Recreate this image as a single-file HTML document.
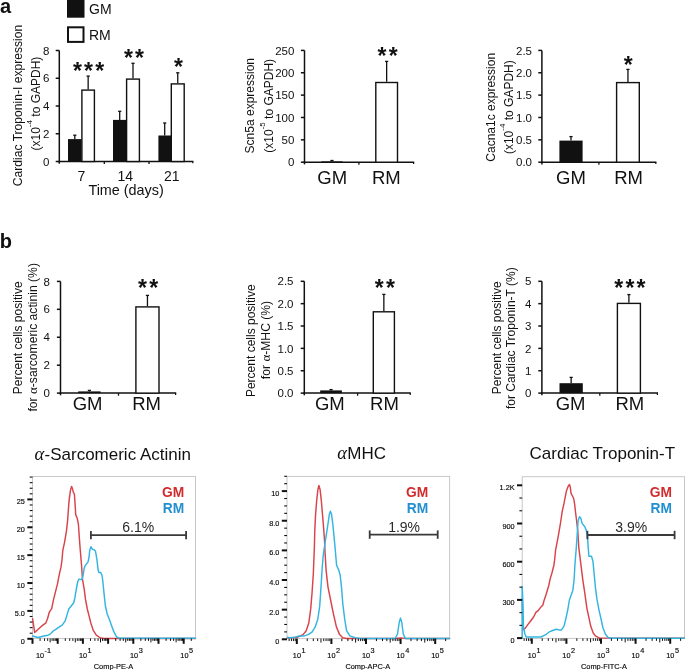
<!DOCTYPE html><html><head><meta charset="utf-8"><style>html,body{margin:0;padding:0;background:#fff;overflow:hidden}svg{display:block;will-change:transform;filter:blur(0.4px)}</style></head><body><svg width="685" height="670" viewBox="0 0 685 670">
<rect width="685" height="670" fill="#fff"/>
<text x="0.00" y="13.20" font-family='"Liberation Sans", sans-serif' font-size="20" text-anchor="start" font-weight="bold" fill="#111" >a</text>
<rect x="67" y="-2" width="17.5" height="19.7" fill="#111"/>
<rect x="68" y="27.3" width="15.5" height="14.6" fill="#fff" stroke="#111" stroke-width="2"/>
<text x="89.00" y="14.20" font-family='"Liberation Sans", sans-serif' font-size="14" text-anchor="start" font-weight="normal" fill="#111" >GM</text>
<text x="89.00" y="40.20" font-family='"Liberation Sans", sans-serif' font-size="14" text-anchor="start" font-weight="normal" fill="#111" >RM</text>
<line x1="59.30" y1="50.50" x2="59.30" y2="162.25" stroke="#111" stroke-width="1.5" />
<line x1="58.55" y1="161.50" x2="193.40" y2="161.50" stroke="#111" stroke-width="1.5" />
<line x1="59.30" y1="161.50" x2="59.30" y2="163.70" stroke="#111" stroke-width="1.5" />
<line x1="192.80" y1="161.50" x2="192.80" y2="163.30" stroke="#111" stroke-width="1.2" />
<line x1="55.70" y1="50.50" x2="59.30" y2="50.50" stroke="#111" stroke-width="1.5" />
<text x="49.50" y="54.64" font-family='"Liberation Sans", sans-serif' font-size="11.5" text-anchor="end" font-weight="normal" fill="#111" >8</text>
<line x1="55.70" y1="78.25" x2="59.30" y2="78.25" stroke="#111" stroke-width="1.5" />
<text x="49.50" y="82.39" font-family='"Liberation Sans", sans-serif' font-size="11.5" text-anchor="end" font-weight="normal" fill="#111" >6</text>
<line x1="55.70" y1="106.00" x2="59.30" y2="106.00" stroke="#111" stroke-width="1.5" />
<text x="49.50" y="110.14" font-family='"Liberation Sans", sans-serif' font-size="11.5" text-anchor="end" font-weight="normal" fill="#111" >4</text>
<line x1="55.70" y1="133.75" x2="59.30" y2="133.75" stroke="#111" stroke-width="1.5" />
<text x="49.50" y="137.89" font-family='"Liberation Sans", sans-serif' font-size="11.5" text-anchor="end" font-weight="normal" fill="#111" >2</text>
<line x1="55.70" y1="161.50" x2="59.30" y2="161.50" stroke="#111" stroke-width="1.5" />
<text x="49.50" y="165.64" font-family='"Liberation Sans", sans-serif' font-size="11.5" text-anchor="end" font-weight="normal" fill="#111" >0</text>
<line x1="104.30" y1="161.50" x2="104.30" y2="164.10" stroke="#111" stroke-width="1.3" />
<line x1="149.00" y1="161.50" x2="149.00" y2="164.10" stroke="#111" stroke-width="1.3" />
<line x1="74.80" y1="139.10" x2="74.80" y2="135.20" stroke="#111" stroke-width="1.3" />
<line x1="73.20" y1="135.20" x2="76.40" y2="135.20" stroke="#111" stroke-width="1.3" />
<rect x="68.00" y="139.10" width="13.60" height="22.40" fill="#111"/>
<line x1="88.15" y1="89.40" x2="88.15" y2="76.10" stroke="#111" stroke-width="1.3" />
<line x1="86.55" y1="76.10" x2="89.75" y2="76.10" stroke="#111" stroke-width="1.3" />
<rect x="81.90" y="90.10" width="12.50" height="71.40" fill="#fff" stroke="#111" stroke-width="1.4"/>
<line x1="119.70" y1="119.90" x2="119.70" y2="111.30" stroke="#111" stroke-width="1.3" />
<line x1="118.10" y1="111.30" x2="121.30" y2="111.30" stroke="#111" stroke-width="1.3" />
<rect x="113.00" y="119.90" width="13.40" height="41.60" fill="#111"/>
<line x1="133.00" y1="78.40" x2="133.00" y2="63.30" stroke="#111" stroke-width="1.3" />
<line x1="131.40" y1="63.30" x2="134.60" y2="63.30" stroke="#111" stroke-width="1.3" />
<rect x="126.60" y="79.10" width="12.80" height="82.40" fill="#fff" stroke="#111" stroke-width="1.4"/>
<line x1="164.70" y1="135.50" x2="164.70" y2="123.00" stroke="#111" stroke-width="1.3" />
<line x1="163.10" y1="123.00" x2="166.30" y2="123.00" stroke="#111" stroke-width="1.3" />
<rect x="158.40" y="135.50" width="12.60" height="26.00" fill="#111"/>
<line x1="177.75" y1="83.20" x2="177.75" y2="72.80" stroke="#111" stroke-width="1.3" />
<line x1="176.15" y1="72.80" x2="179.35" y2="72.80" stroke="#111" stroke-width="1.3" />
<rect x="171.30" y="83.90" width="12.90" height="77.60" fill="#fff" stroke="#111" stroke-width="1.4"/>
<text x="89.72" y="79.02" font-family='"Liberation Sans", sans-serif' font-size="23" text-anchor="middle" font-weight="bold" fill="#111" letter-spacing="2.25" >***</text>
<text x="135.12" y="65.92" font-family='"Liberation Sans", sans-serif' font-size="23" text-anchor="middle" font-weight="bold" fill="#111" letter-spacing="2.25" >**</text>
<text x="179.52" y="74.72" font-family='"Liberation Sans", sans-serif' font-size="23" text-anchor="middle" font-weight="bold" fill="#111" letter-spacing="2.25" >*</text>
<text x="81.50" y="180.60" font-family='"Liberation Sans", sans-serif' font-size="14" text-anchor="middle" font-weight="normal" fill="#111" >7</text>
<text x="125.20" y="180.60" font-family='"Liberation Sans", sans-serif' font-size="14" text-anchor="middle" font-weight="normal" fill="#111" >14</text>
<text x="171.80" y="180.60" font-family='"Liberation Sans", sans-serif' font-size="14" text-anchor="middle" font-weight="normal" fill="#111" >21</text>
<text x="0" y="0" transform="translate(22.00,105.50) rotate(-90)" font-family='"Liberation Sans", sans-serif' font-size="12.1" text-anchor="middle" fill="#111">Cardiac Troponin-I expression</text>
<text x="0" y="0" transform="translate(40.40,103.60) rotate(-90)" font-family='"Liberation Sans", sans-serif' font-size="12" text-anchor="middle" fill="#111">(x10<tspan dy="-8.3" font-size="8">-4</tspan><tspan dy="8.3"> to GAPDH)</tspan></text>
<text x="126.10" y="194.50" font-family='"Liberation Sans", sans-serif' font-size="14.4" text-anchor="middle" font-weight="normal" fill="#111" >Time (days)</text>
<line x1="304.50" y1="50.40" x2="304.50" y2="162.95" stroke="#111" stroke-width="1.5" />
<line x1="303.75" y1="162.20" x2="414.20" y2="162.20" stroke="#111" stroke-width="1.5" />
<line x1="304.50" y1="162.20" x2="304.50" y2="164.40" stroke="#111" stroke-width="1.5" />
<line x1="413.60" y1="162.20" x2="413.60" y2="164.00" stroke="#111" stroke-width="1.2" />
<line x1="300.90" y1="50.40" x2="304.50" y2="50.40" stroke="#111" stroke-width="1.5" />
<text x="294.40" y="54.54" font-family='"Liberation Sans", sans-serif' font-size="11.5" text-anchor="end" font-weight="normal" fill="#111" >250</text>
<line x1="300.90" y1="72.76" x2="304.50" y2="72.76" stroke="#111" stroke-width="1.5" />
<text x="294.40" y="76.90" font-family='"Liberation Sans", sans-serif' font-size="11.5" text-anchor="end" font-weight="normal" fill="#111" >200</text>
<line x1="300.90" y1="95.12" x2="304.50" y2="95.12" stroke="#111" stroke-width="1.5" />
<text x="294.40" y="99.26" font-family='"Liberation Sans", sans-serif' font-size="11.5" text-anchor="end" font-weight="normal" fill="#111" >150</text>
<line x1="300.90" y1="117.48" x2="304.50" y2="117.48" stroke="#111" stroke-width="1.5" />
<text x="294.40" y="121.62" font-family='"Liberation Sans", sans-serif' font-size="11.5" text-anchor="end" font-weight="normal" fill="#111" >100</text>
<line x1="300.90" y1="139.84" x2="304.50" y2="139.84" stroke="#111" stroke-width="1.5" />
<text x="294.40" y="143.98" font-family='"Liberation Sans", sans-serif' font-size="11.5" text-anchor="end" font-weight="normal" fill="#111" >50</text>
<line x1="300.90" y1="162.20" x2="304.50" y2="162.20" stroke="#111" stroke-width="1.5" />
<text x="294.40" y="166.34" font-family='"Liberation Sans", sans-serif' font-size="11.5" text-anchor="end" font-weight="normal" fill="#111" >0</text>
<line x1="358.90" y1="162.20" x2="358.90" y2="164.80" stroke="#111" stroke-width="1.3" />
<line x1="331.95" y1="161.40" x2="331.95" y2="160.50" stroke="#111" stroke-width="1.3" />
<line x1="330.35" y1="160.50" x2="333.55" y2="160.50" stroke="#111" stroke-width="1.3" />
<rect x="321.30" y="161.40" width="21.30" height="0.80" fill="#111"/>
<line x1="386.65" y1="81.80" x2="386.65" y2="61.40" stroke="#111" stroke-width="1.3" />
<line x1="385.05" y1="61.40" x2="388.25" y2="61.40" stroke="#111" stroke-width="1.3" />
<rect x="375.80" y="82.50" width="21.70" height="79.70" fill="#fff" stroke="#111" stroke-width="1.4"/>
<text x="388.72" y="64.02" font-family='"Liberation Sans", sans-serif' font-size="23" text-anchor="middle" font-weight="bold" fill="#111" letter-spacing="2.25" >**</text>
<text x="332.20" y="184.30" font-family='"Liberation Sans", sans-serif' font-size="18.5" text-anchor="middle" font-weight="normal" fill="#111" >GM</text>
<text x="386.30" y="184.30" font-family='"Liberation Sans", sans-serif' font-size="18.5" text-anchor="middle" font-weight="normal" fill="#111" >RM</text>
<text x="0" y="0" transform="translate(254.20,105.70) rotate(-90)" font-family='"Liberation Sans", sans-serif' font-size="12" text-anchor="middle" fill="#111">Scn5a expression</text>
<text x="0" y="0" transform="translate(272.80,105.80) rotate(-90)" font-family='"Liberation Sans", sans-serif' font-size="12" text-anchor="middle" fill="#111">(x10<tspan dy="-8.3" font-size="8">-5</tspan><tspan dy="8.3"> to GAPDH)</tspan></text>
<line x1="541.90" y1="50.40" x2="541.90" y2="162.95" stroke="#111" stroke-width="1.5" />
<line x1="541.15" y1="162.20" x2="656.40" y2="162.20" stroke="#111" stroke-width="1.5" />
<line x1="541.90" y1="162.20" x2="541.90" y2="164.40" stroke="#111" stroke-width="1.5" />
<line x1="655.80" y1="162.20" x2="655.80" y2="164.00" stroke="#111" stroke-width="1.2" />
<line x1="538.30" y1="50.40" x2="541.90" y2="50.40" stroke="#111" stroke-width="1.5" />
<text x="532.00" y="54.54" font-family='"Liberation Sans", sans-serif' font-size="11.5" text-anchor="end" font-weight="normal" fill="#111" >2.5</text>
<line x1="538.30" y1="72.76" x2="541.90" y2="72.76" stroke="#111" stroke-width="1.5" />
<text x="532.00" y="76.90" font-family='"Liberation Sans", sans-serif' font-size="11.5" text-anchor="end" font-weight="normal" fill="#111" >2.0</text>
<line x1="538.30" y1="95.12" x2="541.90" y2="95.12" stroke="#111" stroke-width="1.5" />
<text x="532.00" y="99.26" font-family='"Liberation Sans", sans-serif' font-size="11.5" text-anchor="end" font-weight="normal" fill="#111" >1.5</text>
<line x1="538.30" y1="117.48" x2="541.90" y2="117.48" stroke="#111" stroke-width="1.5" />
<text x="532.00" y="121.62" font-family='"Liberation Sans", sans-serif' font-size="11.5" text-anchor="end" font-weight="normal" fill="#111" >1.0</text>
<line x1="538.30" y1="139.84" x2="541.90" y2="139.84" stroke="#111" stroke-width="1.5" />
<text x="532.00" y="143.98" font-family='"Liberation Sans", sans-serif' font-size="11.5" text-anchor="end" font-weight="normal" fill="#111" >0.5</text>
<line x1="538.30" y1="162.20" x2="541.90" y2="162.20" stroke="#111" stroke-width="1.5" />
<text x="532.00" y="166.34" font-family='"Liberation Sans", sans-serif' font-size="11.5" text-anchor="end" font-weight="normal" fill="#111" >0.0</text>
<line x1="598.90" y1="162.20" x2="598.90" y2="164.80" stroke="#111" stroke-width="1.3" />
<line x1="571.00" y1="140.60" x2="571.00" y2="136.60" stroke="#111" stroke-width="1.3" />
<line x1="569.40" y1="136.60" x2="572.60" y2="136.60" stroke="#111" stroke-width="1.3" />
<rect x="559.40" y="140.60" width="23.20" height="21.60" fill="#111"/>
<line x1="627.95" y1="81.90" x2="627.95" y2="69.40" stroke="#111" stroke-width="1.3" />
<line x1="626.35" y1="69.40" x2="629.55" y2="69.40" stroke="#111" stroke-width="1.3" />
<rect x="616.60" y="82.60" width="22.70" height="79.60" fill="#fff" stroke="#111" stroke-width="1.4"/>
<text x="629.42" y="72.62" font-family='"Liberation Sans", sans-serif' font-size="23" text-anchor="middle" font-weight="bold" fill="#111" letter-spacing="2.25" >*</text>
<text x="571.00" y="184.30" font-family='"Liberation Sans", sans-serif' font-size="18.5" text-anchor="middle" font-weight="normal" fill="#111" >GM</text>
<text x="628.60" y="184.30" font-family='"Liberation Sans", sans-serif' font-size="18.5" text-anchor="middle" font-weight="normal" fill="#111" >RM</text>
<text x="0" y="0" transform="translate(494.80,107.30) rotate(-90)" font-family='"Liberation Sans", sans-serif' font-size="12" text-anchor="middle" fill="#111">Cacna1c expression</text>
<text x="0" y="0" transform="translate(512.90,107.20) rotate(-90)" font-family='"Liberation Sans", sans-serif' font-size="12" text-anchor="middle" fill="#111">(x10<tspan dy="-8.3" font-size="8">-4</tspan><tspan dy="8.3"> to GAPDH)</tspan></text>
<text x="-0.30" y="247.80" font-family='"Liberation Sans", sans-serif' font-size="20" text-anchor="start" font-weight="bold" fill="#111" >b</text>
<line x1="60.50" y1="281.40" x2="60.50" y2="393.85" stroke="#111" stroke-width="1.5" />
<line x1="59.75" y1="393.10" x2="176.20" y2="393.10" stroke="#111" stroke-width="1.5" />
<line x1="60.50" y1="393.10" x2="60.50" y2="395.30" stroke="#111" stroke-width="1.5" />
<line x1="175.60" y1="393.10" x2="175.60" y2="394.90" stroke="#111" stroke-width="1.2" />
<line x1="56.90" y1="281.40" x2="60.50" y2="281.40" stroke="#111" stroke-width="1.5" />
<text x="50.00" y="285.54" font-family='"Liberation Sans", sans-serif' font-size="11.5" text-anchor="end" font-weight="normal" fill="#111" >8</text>
<line x1="56.90" y1="309.32" x2="60.50" y2="309.32" stroke="#111" stroke-width="1.5" />
<text x="50.00" y="313.46" font-family='"Liberation Sans", sans-serif' font-size="11.5" text-anchor="end" font-weight="normal" fill="#111" >6</text>
<line x1="56.90" y1="337.25" x2="60.50" y2="337.25" stroke="#111" stroke-width="1.5" />
<text x="50.00" y="341.39" font-family='"Liberation Sans", sans-serif' font-size="11.5" text-anchor="end" font-weight="normal" fill="#111" >4</text>
<line x1="56.90" y1="365.18" x2="60.50" y2="365.18" stroke="#111" stroke-width="1.5" />
<text x="50.00" y="369.31" font-family='"Liberation Sans", sans-serif' font-size="11.5" text-anchor="end" font-weight="normal" fill="#111" >2</text>
<line x1="56.90" y1="393.10" x2="60.50" y2="393.10" stroke="#111" stroke-width="1.5" />
<text x="50.00" y="397.24" font-family='"Liberation Sans", sans-serif' font-size="11.5" text-anchor="end" font-weight="normal" fill="#111" >0</text>
<line x1="118.50" y1="393.10" x2="118.50" y2="395.70" stroke="#111" stroke-width="1.3" />
<line x1="89.40" y1="391.40" x2="89.40" y2="390.40" stroke="#111" stroke-width="1.3" />
<line x1="87.80" y1="390.40" x2="91.00" y2="390.40" stroke="#111" stroke-width="1.3" />
<rect x="78.20" y="391.40" width="22.40" height="1.70" fill="#111"/>
<line x1="147.45" y1="306.20" x2="147.45" y2="295.40" stroke="#111" stroke-width="1.3" />
<line x1="145.85" y1="295.40" x2="149.05" y2="295.40" stroke="#111" stroke-width="1.3" />
<rect x="135.90" y="306.90" width="23.10" height="86.20" fill="#fff" stroke="#111" stroke-width="1.4"/>
<text x="149.22" y="296.22" font-family='"Liberation Sans", sans-serif' font-size="23" text-anchor="middle" font-weight="bold" fill="#111" letter-spacing="2.25" >**</text>
<text x="87.60" y="409.60" font-family='"Liberation Sans", sans-serif' font-size="18.5" text-anchor="middle" font-weight="normal" fill="#111" >GM</text>
<text x="146.60" y="409.60" font-family='"Liberation Sans", sans-serif' font-size="18.5" text-anchor="middle" font-weight="normal" fill="#111" >RM</text>
<text x="0" y="0" transform="translate(21.60,337.80) rotate(-90)" font-family='"Liberation Sans", sans-serif' font-size="12" text-anchor="middle" fill="#111">Percent cells positive</text>
<text x="0" y="0" transform="translate(37.30,337.30) rotate(-90)" font-family='"Liberation Sans", sans-serif' font-size="12.15" text-anchor="middle" fill="#111">for <tspan font-family="&quot;Liberation Serif&quot;, serif" font-size="13">α</tspan>-sarcomeric actinin (%)</text>
<line x1="304.30" y1="281.30" x2="304.30" y2="393.85" stroke="#111" stroke-width="1.5" />
<line x1="303.55" y1="393.10" x2="410.80" y2="393.10" stroke="#111" stroke-width="1.5" />
<line x1="304.30" y1="393.10" x2="304.30" y2="395.30" stroke="#111" stroke-width="1.5" />
<line x1="410.20" y1="393.10" x2="410.20" y2="394.90" stroke="#111" stroke-width="1.2" />
<line x1="300.70" y1="281.30" x2="304.30" y2="281.30" stroke="#111" stroke-width="1.5" />
<text x="293.50" y="285.44" font-family='"Liberation Sans", sans-serif' font-size="11.5" text-anchor="end" font-weight="normal" fill="#111" >2.5</text>
<line x1="300.70" y1="303.66" x2="304.30" y2="303.66" stroke="#111" stroke-width="1.5" />
<text x="293.50" y="307.80" font-family='"Liberation Sans", sans-serif' font-size="11.5" text-anchor="end" font-weight="normal" fill="#111" >2.0</text>
<line x1="300.70" y1="326.02" x2="304.30" y2="326.02" stroke="#111" stroke-width="1.5" />
<text x="293.50" y="330.16" font-family='"Liberation Sans", sans-serif' font-size="11.5" text-anchor="end" font-weight="normal" fill="#111" >1.5</text>
<line x1="300.70" y1="348.38" x2="304.30" y2="348.38" stroke="#111" stroke-width="1.5" />
<text x="293.50" y="352.52" font-family='"Liberation Sans", sans-serif' font-size="11.5" text-anchor="end" font-weight="normal" fill="#111" >1.0</text>
<line x1="300.70" y1="370.74" x2="304.30" y2="370.74" stroke="#111" stroke-width="1.5" />
<text x="293.50" y="374.88" font-family='"Liberation Sans", sans-serif' font-size="11.5" text-anchor="end" font-weight="normal" fill="#111" >0.5</text>
<line x1="300.70" y1="393.10" x2="304.30" y2="393.10" stroke="#111" stroke-width="1.5" />
<text x="293.50" y="397.24" font-family='"Liberation Sans", sans-serif' font-size="11.5" text-anchor="end" font-weight="normal" fill="#111" >0.0</text>
<line x1="357.60" y1="393.10" x2="357.60" y2="395.70" stroke="#111" stroke-width="1.3" />
<line x1="331.05" y1="390.40" x2="331.05" y2="389.60" stroke="#111" stroke-width="1.3" />
<line x1="329.45" y1="389.60" x2="332.65" y2="389.60" stroke="#111" stroke-width="1.3" />
<rect x="320.20" y="390.40" width="21.70" height="2.70" fill="#111"/>
<line x1="383.85" y1="311.10" x2="383.85" y2="294.40" stroke="#111" stroke-width="1.3" />
<line x1="382.25" y1="294.40" x2="385.45" y2="294.40" stroke="#111" stroke-width="1.3" />
<rect x="373.30" y="311.80" width="21.10" height="81.30" fill="#fff" stroke="#111" stroke-width="1.4"/>
<text x="385.92" y="295.52" font-family='"Liberation Sans", sans-serif' font-size="23" text-anchor="middle" font-weight="bold" fill="#111" letter-spacing="2.25" >**</text>
<text x="329.90" y="409.60" font-family='"Liberation Sans", sans-serif' font-size="18.5" text-anchor="middle" font-weight="normal" fill="#111" >GM</text>
<text x="384.50" y="409.60" font-family='"Liberation Sans", sans-serif' font-size="18.5" text-anchor="middle" font-weight="normal" fill="#111" >RM</text>
<text x="0" y="0" transform="translate(255.10,340.70) rotate(-90)" font-family='"Liberation Sans", sans-serif' font-size="12" text-anchor="middle" fill="#111">Percent cells positive</text>
<text x="0" y="0" transform="translate(269.90,340.00) rotate(-90)" font-family='"Liberation Sans", sans-serif' font-size="12.15" text-anchor="middle" fill="#111">for <tspan font-family="&quot;Liberation Serif&quot;, serif" font-size="13">α</tspan>-MHC (%)</text>
<line x1="541.90" y1="281.30" x2="541.90" y2="393.85" stroke="#111" stroke-width="1.5" />
<line x1="541.15" y1="393.10" x2="658.00" y2="393.10" stroke="#111" stroke-width="1.5" />
<line x1="541.90" y1="393.10" x2="541.90" y2="395.30" stroke="#111" stroke-width="1.5" />
<line x1="657.40" y1="393.10" x2="657.40" y2="394.90" stroke="#111" stroke-width="1.2" />
<line x1="538.30" y1="281.30" x2="541.90" y2="281.30" stroke="#111" stroke-width="1.5" />
<text x="531.40" y="285.44" font-family='"Liberation Sans", sans-serif' font-size="11.5" text-anchor="end" font-weight="normal" fill="#111" >5</text>
<line x1="538.30" y1="303.66" x2="541.90" y2="303.66" stroke="#111" stroke-width="1.5" />
<text x="531.40" y="307.80" font-family='"Liberation Sans", sans-serif' font-size="11.5" text-anchor="end" font-weight="normal" fill="#111" >4</text>
<line x1="538.30" y1="326.02" x2="541.90" y2="326.02" stroke="#111" stroke-width="1.5" />
<text x="531.40" y="330.16" font-family='"Liberation Sans", sans-serif' font-size="11.5" text-anchor="end" font-weight="normal" fill="#111" >3</text>
<line x1="538.30" y1="348.38" x2="541.90" y2="348.38" stroke="#111" stroke-width="1.5" />
<text x="531.40" y="352.52" font-family='"Liberation Sans", sans-serif' font-size="11.5" text-anchor="end" font-weight="normal" fill="#111" >2</text>
<line x1="538.30" y1="370.74" x2="541.90" y2="370.74" stroke="#111" stroke-width="1.5" />
<text x="531.40" y="374.88" font-family='"Liberation Sans", sans-serif' font-size="11.5" text-anchor="end" font-weight="normal" fill="#111" >1</text>
<line x1="538.30" y1="393.10" x2="541.90" y2="393.10" stroke="#111" stroke-width="1.5" />
<text x="531.40" y="397.24" font-family='"Liberation Sans", sans-serif' font-size="11.5" text-anchor="end" font-weight="normal" fill="#111" >0</text>
<line x1="599.80" y1="393.10" x2="599.80" y2="395.70" stroke="#111" stroke-width="1.3" />
<line x1="571.15" y1="383.20" x2="571.15" y2="377.40" stroke="#111" stroke-width="1.3" />
<line x1="569.55" y1="377.40" x2="572.75" y2="377.40" stroke="#111" stroke-width="1.3" />
<rect x="559.50" y="383.20" width="23.30" height="9.90" fill="#111"/>
<line x1="628.90" y1="302.70" x2="628.90" y2="294.60" stroke="#111" stroke-width="1.3" />
<line x1="627.30" y1="294.60" x2="630.50" y2="294.60" stroke="#111" stroke-width="1.3" />
<rect x="617.40" y="303.40" width="23.00" height="89.70" fill="#fff" stroke="#111" stroke-width="1.4"/>
<text x="631.02" y="296.32" font-family='"Liberation Sans", sans-serif' font-size="23" text-anchor="middle" font-weight="bold" fill="#111" letter-spacing="2.25" >***</text>
<text x="570.60" y="409.60" font-family='"Liberation Sans", sans-serif' font-size="18.5" text-anchor="middle" font-weight="normal" fill="#111" >GM</text>
<text x="629.80" y="409.60" font-family='"Liberation Sans", sans-serif' font-size="18.5" text-anchor="middle" font-weight="normal" fill="#111" >RM</text>
<text x="0" y="0" transform="translate(500.70,337.80) rotate(-90)" font-family='"Liberation Sans", sans-serif' font-size="12" text-anchor="middle" fill="#111">Percent cells positive</text>
<text x="0" y="0" transform="translate(514.90,338.20) rotate(-90)" font-family='"Liberation Sans", sans-serif' font-size="12" text-anchor="middle" fill="#111">for Cardiac Troponin-T (%)</text>
<text x="34.50" y="459.60" font-family='"Liberation Sans", sans-serif' font-size="17" text-anchor="start" font-weight="normal" fill="#111" ><tspan font-family="&quot;Liberation Serif&quot;, serif" font-style="italic" font-size="18.5">α</tspan><tspan dx="0.3">-Sarcomeric</tspan> Actinin</text>
<text x="337.20" y="459.30" font-family='"Liberation Sans", sans-serif' font-size="17" text-anchor="start" font-weight="normal" fill="#111" ><tspan font-family="&quot;Liberation Serif&quot;, serif" font-style="italic" font-size="18.5">α</tspan><tspan dx="0.3">MHC</tspan></text>
<text x="529.60" y="459.30" font-family='"Liberation Sans", sans-serif' font-size="17" text-anchor="start" font-weight="normal" fill="#111" >Cardiac Troponin-T</text>
<rect x="32.50" y="476.50" width="163.00" height="161.90" fill="none" stroke="#c8c8c8" stroke-width="1"/>
<polyline points="32.6,618.7 34.7,632.5 37.9,629.5 41.5,626.2 45.7,623.2 47.5,618.7 49.3,612.2 51.7,608.6 53.3,600.6 55.1,593.4 57.5,583.9 59.3,574.3 61.0,567.2 62.0,560.0 62.8,550.4 64.6,542.1 66.4,531.3 67.6,520.6 68.8,503.9 69.4,497.9 70.6,489.6 71.6,486.4 72.4,488.4 73.2,491.9 74.4,494.3 75.1,503.9 75.7,514.6 77.2,518.2 78.4,524.2 79.3,537.3 80.1,548.1 81.1,560.0 81.6,566.0 82.5,579.1 84.3,589.9 85.5,599.4 87.3,609.0 89.1,616.1 90.9,623.3 93.3,630.4 96.3,635.2 100.4,638.0 104.0,638.4 195.5,638.4" fill="none" stroke="#d9434a" stroke-width="1.45" stroke-linejoin="round" stroke-linecap="round"/>
<polyline points="32.6,636.0 37.9,637.5 43.9,636.0 47.9,635.2 49.9,634.3 51.5,632.8 53.5,630.7 55.1,629.9 59.3,626.9 62.2,625.1 65.2,620.9 67.0,614.9 68.8,609.0 71.2,606.0 73.6,603.0 74.8,598.2 76.0,591.0 77.8,581.5 79.0,579.1 81.9,579.7 83.1,575.5 84.2,568.2 85.2,565.6 88.1,561.9 89.1,556.7 89.7,550.4 91.0,546.8 92.5,549.4 94.1,549.7 95.4,551.0 96.2,555.2 97.2,561.9 98.0,569.3 98.8,572.4 100.6,572.4 101.9,575.0 102.7,580.0 103.6,589.0 104.5,597.9 105.4,606.0 107.2,614.0 109.4,619.4 111.6,625.7 113.9,631.9 116.6,636.8 118.8,638.0 121.0,638.3 195.5,638.3" fill="none" stroke="#33b5e2" stroke-width="1.45" stroke-linejoin="round" stroke-linecap="round"/>
<line x1="29.70" y1="633.22" x2="32.50" y2="633.22" stroke="#111" stroke-width="1.1" />
<line x1="29.70" y1="627.65" x2="32.50" y2="627.65" stroke="#111" stroke-width="1.1" />
<line x1="29.70" y1="622.07" x2="32.50" y2="622.07" stroke="#111" stroke-width="1.1" />
<line x1="29.70" y1="616.50" x2="32.50" y2="616.50" stroke="#111" stroke-width="1.1" />
<line x1="29.70" y1="605.34" x2="32.50" y2="605.34" stroke="#111" stroke-width="1.1" />
<line x1="29.70" y1="599.77" x2="32.50" y2="599.77" stroke="#111" stroke-width="1.1" />
<line x1="29.70" y1="594.19" x2="32.50" y2="594.19" stroke="#111" stroke-width="1.1" />
<line x1="29.70" y1="588.62" x2="32.50" y2="588.62" stroke="#111" stroke-width="1.1" />
<line x1="29.70" y1="577.46" x2="32.50" y2="577.46" stroke="#111" stroke-width="1.1" />
<line x1="29.70" y1="571.89" x2="32.50" y2="571.89" stroke="#111" stroke-width="1.1" />
<line x1="29.70" y1="566.31" x2="32.50" y2="566.31" stroke="#111" stroke-width="1.1" />
<line x1="29.70" y1="560.74" x2="32.50" y2="560.74" stroke="#111" stroke-width="1.1" />
<line x1="29.70" y1="549.58" x2="32.50" y2="549.58" stroke="#111" stroke-width="1.1" />
<line x1="29.70" y1="544.01" x2="32.50" y2="544.01" stroke="#111" stroke-width="1.1" />
<line x1="29.70" y1="538.43" x2="32.50" y2="538.43" stroke="#111" stroke-width="1.1" />
<line x1="29.70" y1="532.86" x2="32.50" y2="532.86" stroke="#111" stroke-width="1.1" />
<line x1="29.70" y1="521.70" x2="32.50" y2="521.70" stroke="#111" stroke-width="1.1" />
<line x1="29.70" y1="516.13" x2="32.50" y2="516.13" stroke="#111" stroke-width="1.1" />
<line x1="29.70" y1="510.55" x2="32.50" y2="510.55" stroke="#111" stroke-width="1.1" />
<line x1="29.70" y1="504.98" x2="32.50" y2="504.98" stroke="#111" stroke-width="1.1" />
<line x1="29.70" y1="493.82" x2="32.50" y2="493.82" stroke="#111" stroke-width="1.1" />
<line x1="29.70" y1="488.25" x2="32.50" y2="488.25" stroke="#111" stroke-width="1.1" />
<line x1="29.70" y1="482.67" x2="32.50" y2="482.67" stroke="#111" stroke-width="1.1" />
<line x1="29.70" y1="477.10" x2="32.50" y2="477.10" stroke="#111" stroke-width="1.1" />
<line x1="27.30" y1="638.80" x2="32.50" y2="638.80" stroke="#111" stroke-width="2.0" />
<line x1="27.30" y1="610.92" x2="32.50" y2="610.92" stroke="#111" stroke-width="2.0" />
<line x1="27.30" y1="583.04" x2="32.50" y2="583.04" stroke="#111" stroke-width="2.0" />
<line x1="27.30" y1="555.16" x2="32.50" y2="555.16" stroke="#111" stroke-width="2.0" />
<line x1="27.30" y1="527.28" x2="32.50" y2="527.28" stroke="#111" stroke-width="2.0" />
<line x1="27.30" y1="499.40" x2="32.50" y2="499.40" stroke="#111" stroke-width="2.0" />
<text x="24.90" y="504.40" font-family='"Liberation Sans", sans-serif' font-size="7.3" text-anchor="end" font-weight="normal" fill="#0a0a0a" stroke="#0a0a0a" stroke-width="0.15">25</text>
<text x="24.90" y="532.28" font-family='"Liberation Sans", sans-serif' font-size="7.3" text-anchor="end" font-weight="normal" fill="#0a0a0a" stroke="#0a0a0a" stroke-width="0.15">20</text>
<text x="24.90" y="560.16" font-family='"Liberation Sans", sans-serif' font-size="7.3" text-anchor="end" font-weight="normal" fill="#0a0a0a" stroke="#0a0a0a" stroke-width="0.15">15</text>
<text x="24.90" y="588.04" font-family='"Liberation Sans", sans-serif' font-size="7.3" text-anchor="end" font-weight="normal" fill="#0a0a0a" stroke="#0a0a0a" stroke-width="0.15">10</text>
<text x="24.90" y="615.92" font-family='"Liberation Sans", sans-serif' font-size="7.3" text-anchor="end" font-weight="normal" fill="#0a0a0a" stroke="#0a0a0a" stroke-width="0.15">5.0</text>
<text x="24.90" y="643.80" font-family='"Liberation Sans", sans-serif' font-size="7.3" text-anchor="end" font-weight="normal" fill="#0a0a0a" stroke="#0a0a0a" stroke-width="0.15">0</text>
<line x1="32.50" y1="638.40" x2="32.50" y2="643.80" stroke="#111" stroke-width="2.0" />
<line x1="40.09" y1="638.40" x2="40.09" y2="640.90" stroke="#111" stroke-width="1.0" />
<line x1="44.52" y1="638.40" x2="44.52" y2="640.90" stroke="#111" stroke-width="1.0" />
<line x1="47.67" y1="638.40" x2="47.67" y2="640.90" stroke="#111" stroke-width="1.0" />
<line x1="50.11" y1="638.40" x2="50.11" y2="642.40" stroke="#111" stroke-width="1.0" />
<line x1="52.11" y1="638.40" x2="52.11" y2="640.90" stroke="#111" stroke-width="1.0" />
<line x1="53.80" y1="638.40" x2="53.80" y2="640.90" stroke="#111" stroke-width="1.0" />
<line x1="55.26" y1="638.40" x2="55.26" y2="640.90" stroke="#111" stroke-width="1.0" />
<line x1="56.55" y1="638.40" x2="56.55" y2="640.90" stroke="#111" stroke-width="1.0" />
<line x1="57.70" y1="638.40" x2="57.70" y2="643.80" stroke="#111" stroke-width="2.0" />
<line x1="65.29" y1="638.40" x2="65.29" y2="640.90" stroke="#111" stroke-width="1.0" />
<line x1="69.72" y1="638.40" x2="69.72" y2="640.90" stroke="#111" stroke-width="1.0" />
<line x1="72.87" y1="638.40" x2="72.87" y2="640.90" stroke="#111" stroke-width="1.0" />
<line x1="75.31" y1="638.40" x2="75.31" y2="642.40" stroke="#111" stroke-width="1.0" />
<line x1="77.31" y1="638.40" x2="77.31" y2="640.90" stroke="#111" stroke-width="1.0" />
<line x1="79.00" y1="638.40" x2="79.00" y2="640.90" stroke="#111" stroke-width="1.0" />
<line x1="80.46" y1="638.40" x2="80.46" y2="640.90" stroke="#111" stroke-width="1.0" />
<line x1="81.75" y1="638.40" x2="81.75" y2="640.90" stroke="#111" stroke-width="1.0" />
<line x1="82.90" y1="638.40" x2="82.90" y2="643.80" stroke="#111" stroke-width="2.0" />
<line x1="90.49" y1="638.40" x2="90.49" y2="640.90" stroke="#111" stroke-width="1.0" />
<line x1="94.92" y1="638.40" x2="94.92" y2="640.90" stroke="#111" stroke-width="1.0" />
<line x1="98.07" y1="638.40" x2="98.07" y2="640.90" stroke="#111" stroke-width="1.0" />
<line x1="100.51" y1="638.40" x2="100.51" y2="642.40" stroke="#111" stroke-width="1.0" />
<line x1="102.51" y1="638.40" x2="102.51" y2="640.90" stroke="#111" stroke-width="1.0" />
<line x1="104.20" y1="638.40" x2="104.20" y2="640.90" stroke="#111" stroke-width="1.0" />
<line x1="105.66" y1="638.40" x2="105.66" y2="640.90" stroke="#111" stroke-width="1.0" />
<line x1="106.95" y1="638.40" x2="106.95" y2="640.90" stroke="#111" stroke-width="1.0" />
<line x1="108.10" y1="638.40" x2="108.10" y2="643.80" stroke="#111" stroke-width="2.0" />
<line x1="115.69" y1="638.40" x2="115.69" y2="640.90" stroke="#111" stroke-width="1.0" />
<line x1="120.12" y1="638.40" x2="120.12" y2="640.90" stroke="#111" stroke-width="1.0" />
<line x1="123.27" y1="638.40" x2="123.27" y2="640.90" stroke="#111" stroke-width="1.0" />
<line x1="125.71" y1="638.40" x2="125.71" y2="642.40" stroke="#111" stroke-width="1.0" />
<line x1="127.71" y1="638.40" x2="127.71" y2="640.90" stroke="#111" stroke-width="1.0" />
<line x1="129.40" y1="638.40" x2="129.40" y2="640.90" stroke="#111" stroke-width="1.0" />
<line x1="130.86" y1="638.40" x2="130.86" y2="640.90" stroke="#111" stroke-width="1.0" />
<line x1="132.15" y1="638.40" x2="132.15" y2="640.90" stroke="#111" stroke-width="1.0" />
<line x1="133.30" y1="638.40" x2="133.30" y2="643.80" stroke="#111" stroke-width="2.0" />
<line x1="140.89" y1="638.40" x2="140.89" y2="640.90" stroke="#111" stroke-width="1.0" />
<line x1="145.32" y1="638.40" x2="145.32" y2="640.90" stroke="#111" stroke-width="1.0" />
<line x1="148.47" y1="638.40" x2="148.47" y2="640.90" stroke="#111" stroke-width="1.0" />
<line x1="150.91" y1="638.40" x2="150.91" y2="642.40" stroke="#111" stroke-width="1.0" />
<line x1="152.91" y1="638.40" x2="152.91" y2="640.90" stroke="#111" stroke-width="1.0" />
<line x1="154.60" y1="638.40" x2="154.60" y2="640.90" stroke="#111" stroke-width="1.0" />
<line x1="156.06" y1="638.40" x2="156.06" y2="640.90" stroke="#111" stroke-width="1.0" />
<line x1="157.35" y1="638.40" x2="157.35" y2="640.90" stroke="#111" stroke-width="1.0" />
<line x1="158.50" y1="638.40" x2="158.50" y2="643.80" stroke="#111" stroke-width="2.0" />
<line x1="166.09" y1="638.40" x2="166.09" y2="640.90" stroke="#111" stroke-width="1.0" />
<line x1="170.52" y1="638.40" x2="170.52" y2="640.90" stroke="#111" stroke-width="1.0" />
<line x1="173.67" y1="638.40" x2="173.67" y2="640.90" stroke="#111" stroke-width="1.0" />
<line x1="176.11" y1="638.40" x2="176.11" y2="642.40" stroke="#111" stroke-width="1.0" />
<line x1="178.11" y1="638.40" x2="178.11" y2="640.90" stroke="#111" stroke-width="1.0" />
<line x1="179.80" y1="638.40" x2="179.80" y2="640.90" stroke="#111" stroke-width="1.0" />
<line x1="181.26" y1="638.40" x2="181.26" y2="640.90" stroke="#111" stroke-width="1.0" />
<line x1="182.55" y1="638.40" x2="182.55" y2="640.90" stroke="#111" stroke-width="1.0" />
<line x1="183.70" y1="638.40" x2="183.70" y2="643.80" stroke="#111" stroke-width="2.0" />
<line x1="191.29" y1="638.40" x2="191.29" y2="640.90" stroke="#111" stroke-width="1.0" />
<text x="40.00" y="658.40" font-family='"Liberation Sans", sans-serif' font-size="7.3" text-anchor="middle" font-weight="normal" fill="#0a0a0a" stroke="#0a0a0a" stroke-width="0.15">10</text>
<text x="44.60" y="653.00" font-family='"Liberation Sans", sans-serif' font-size="7.3" text-anchor="start" font-weight="normal" fill="#0a0a0a" stroke="#0a0a0a" stroke-width="0.15">-1</text>
<text x="83.00" y="658.40" font-family='"Liberation Sans", sans-serif' font-size="7.3" text-anchor="middle" font-weight="normal" fill="#0a0a0a" stroke="#0a0a0a" stroke-width="0.15">10</text>
<text x="87.60" y="653.00" font-family='"Liberation Sans", sans-serif' font-size="7.3" text-anchor="start" font-weight="normal" fill="#0a0a0a" stroke="#0a0a0a" stroke-width="0.15">1</text>
<text x="134.10" y="658.40" font-family='"Liberation Sans", sans-serif' font-size="7.3" text-anchor="middle" font-weight="normal" fill="#0a0a0a" stroke="#0a0a0a" stroke-width="0.15">10</text>
<text x="138.70" y="653.00" font-family='"Liberation Sans", sans-serif' font-size="7.3" text-anchor="start" font-weight="normal" fill="#0a0a0a" stroke="#0a0a0a" stroke-width="0.15">3</text>
<text x="184.40" y="658.40" font-family='"Liberation Sans", sans-serif' font-size="7.3" text-anchor="middle" font-weight="normal" fill="#0a0a0a" stroke="#0a0a0a" stroke-width="0.15">10</text>
<text x="189.00" y="653.00" font-family='"Liberation Sans", sans-serif' font-size="7.3" text-anchor="start" font-weight="normal" fill="#0a0a0a" stroke="#0a0a0a" stroke-width="0.15">5</text>
<text x="113.50" y="668.60" font-family='"Liberation Sans", sans-serif' font-size="7.4" text-anchor="middle" font-weight="normal" fill="#0a0a0a" stroke="#0a0a0a" stroke-width="0.15">Comp-PE-A</text>
<text x="184.20" y="496.60" font-family='"Liberation Sans", sans-serif' font-size="13.8" text-anchor="end" font-weight="bold" fill="#d02b2d" >GM</text>
<text x="184.20" y="512.60" font-family='"Liberation Sans", sans-serif' font-size="13.8" text-anchor="end" font-weight="bold" fill="#2290d0" >RM</text>
<line x1="90.90" y1="535.10" x2="186.10" y2="535.10" stroke="#3a3a3a" stroke-width="1.8" />
<line x1="90.90" y1="530.90" x2="90.90" y2="539.30" stroke="#3a3a3a" stroke-width="1.8" />
<line x1="186.10" y1="530.90" x2="186.10" y2="539.30" stroke="#3a3a3a" stroke-width="1.8" />
<text x="138.20" y="531.60" font-family='"Liberation Sans", sans-serif' font-size="14" text-anchor="middle" font-weight="normal" fill="#2a2a2a" >6.1%</text>
<rect x="287.00" y="476.40" width="162.60" height="162.20" fill="none" stroke="#c8c8c8" stroke-width="1"/>
<polyline points="287.5,637.8 291.4,637.8 297.8,637.2 303.0,634.6 306.2,630.8 308.8,623.1 310.7,608.9 312.0,593.5 313.3,574.3 314.0,557.0 314.4,546.9 314.8,530.1 315.5,515.8 316.7,500.3 317.9,489.6 318.9,485.4 320.1,489.6 321.3,500.3 322.4,513.4 323.6,527.8 324.5,539.7 325.0,551.6 325.5,560.0 326.1,570.4 328.0,587.1 330.6,600.0 333.2,612.8 336.4,626.9 339.6,634.6 342.8,637.8 346.6,638.5 395.0,638.5 400.5,637.9 406.0,638.5 449.6,638.5" fill="none" stroke="#d9434a" stroke-width="1.45" stroke-linejoin="round" stroke-linecap="round"/>
<polyline points="287.5,637.2 290.1,637.8 295.3,637.2 299.1,635.9 304.3,635.9 308.1,634.6 312.0,632.1 315.2,626.9 317.8,619.2 319.7,606.4 321.0,587.1 322.2,567.8 323.4,553.8 324.8,544.5 326.5,533.7 328.1,523.0 329.3,514.6 330.4,511.3 331.6,514.6 332.8,524.2 334.0,536.1 335.0,546.9 335.8,556.0 336.6,565.3 338.9,570.4 340.2,575.5 341.5,587.1 342.8,603.8 344.7,619.2 346.6,630.8 349.9,635.9 355.0,637.8 360.0,638.4 395.2,638.4 397.5,634.0 399.3,622.0 400.5,618.1 401.7,622.0 403.3,634.0 405.3,638.4 449.6,638.4" fill="none" stroke="#33b5e2" stroke-width="1.45" stroke-linejoin="round" stroke-linecap="round"/>
<line x1="284.20" y1="631.89" x2="287.00" y2="631.89" stroke="#111" stroke-width="1.1" />
<line x1="284.20" y1="624.48" x2="287.00" y2="624.48" stroke="#111" stroke-width="1.1" />
<line x1="284.20" y1="617.07" x2="287.00" y2="617.07" stroke="#111" stroke-width="1.1" />
<line x1="284.20" y1="602.25" x2="287.00" y2="602.25" stroke="#111" stroke-width="1.1" />
<line x1="284.20" y1="594.84" x2="287.00" y2="594.84" stroke="#111" stroke-width="1.1" />
<line x1="284.20" y1="587.43" x2="287.00" y2="587.43" stroke="#111" stroke-width="1.1" />
<line x1="284.20" y1="572.61" x2="287.00" y2="572.61" stroke="#111" stroke-width="1.1" />
<line x1="284.20" y1="565.20" x2="287.00" y2="565.20" stroke="#111" stroke-width="1.1" />
<line x1="284.20" y1="557.79" x2="287.00" y2="557.79" stroke="#111" stroke-width="1.1" />
<line x1="284.20" y1="542.97" x2="287.00" y2="542.97" stroke="#111" stroke-width="1.1" />
<line x1="284.20" y1="535.56" x2="287.00" y2="535.56" stroke="#111" stroke-width="1.1" />
<line x1="284.20" y1="528.15" x2="287.00" y2="528.15" stroke="#111" stroke-width="1.1" />
<line x1="284.20" y1="513.33" x2="287.00" y2="513.33" stroke="#111" stroke-width="1.1" />
<line x1="284.20" y1="505.92" x2="287.00" y2="505.92" stroke="#111" stroke-width="1.1" />
<line x1="284.20" y1="498.51" x2="287.00" y2="498.51" stroke="#111" stroke-width="1.1" />
<line x1="284.20" y1="483.69" x2="287.00" y2="483.69" stroke="#111" stroke-width="1.1" />
<line x1="284.20" y1="476.28" x2="287.00" y2="476.28" stroke="#111" stroke-width="1.1" />
<line x1="281.80" y1="639.30" x2="287.00" y2="639.30" stroke="#111" stroke-width="2.0" />
<line x1="281.80" y1="609.66" x2="287.00" y2="609.66" stroke="#111" stroke-width="2.0" />
<line x1="281.80" y1="580.02" x2="287.00" y2="580.02" stroke="#111" stroke-width="2.0" />
<line x1="281.80" y1="550.38" x2="287.00" y2="550.38" stroke="#111" stroke-width="2.0" />
<line x1="281.80" y1="520.74" x2="287.00" y2="520.74" stroke="#111" stroke-width="2.0" />
<line x1="281.80" y1="491.10" x2="287.00" y2="491.10" stroke="#111" stroke-width="2.0" />
<text x="279.40" y="496.10" font-family='"Liberation Sans", sans-serif' font-size="7.3" text-anchor="end" font-weight="normal" fill="#0a0a0a" stroke="#0a0a0a" stroke-width="0.15">10</text>
<text x="279.40" y="525.74" font-family='"Liberation Sans", sans-serif' font-size="7.3" text-anchor="end" font-weight="normal" fill="#0a0a0a" stroke="#0a0a0a" stroke-width="0.15">8.0</text>
<text x="279.40" y="555.38" font-family='"Liberation Sans", sans-serif' font-size="7.3" text-anchor="end" font-weight="normal" fill="#0a0a0a" stroke="#0a0a0a" stroke-width="0.15">6.0</text>
<text x="279.40" y="585.02" font-family='"Liberation Sans", sans-serif' font-size="7.3" text-anchor="end" font-weight="normal" fill="#0a0a0a" stroke="#0a0a0a" stroke-width="0.15">4.0</text>
<text x="279.40" y="614.66" font-family='"Liberation Sans", sans-serif' font-size="7.3" text-anchor="end" font-weight="normal" fill="#0a0a0a" stroke="#0a0a0a" stroke-width="0.15">2.0</text>
<text x="279.40" y="644.30" font-family='"Liberation Sans", sans-serif' font-size="7.3" text-anchor="end" font-weight="normal" fill="#0a0a0a" stroke="#0a0a0a" stroke-width="0.15">0</text>
<line x1="289.12" y1="638.60" x2="289.12" y2="641.10" stroke="#111" stroke-width="1.0" />
<line x1="291.44" y1="638.60" x2="291.44" y2="641.10" stroke="#111" stroke-width="1.0" />
<line x1="293.45" y1="638.60" x2="293.45" y2="641.10" stroke="#111" stroke-width="1.0" />
<line x1="295.22" y1="638.60" x2="295.22" y2="641.10" stroke="#111" stroke-width="1.0" />
<line x1="296.80" y1="638.60" x2="296.80" y2="644.00" stroke="#111" stroke-width="2.0" />
<line x1="307.22" y1="638.60" x2="307.22" y2="641.10" stroke="#111" stroke-width="1.0" />
<line x1="313.31" y1="638.60" x2="313.31" y2="641.10" stroke="#111" stroke-width="1.0" />
<line x1="317.63" y1="638.60" x2="317.63" y2="641.10" stroke="#111" stroke-width="1.0" />
<line x1="320.98" y1="638.60" x2="320.98" y2="642.60" stroke="#111" stroke-width="1.0" />
<line x1="323.72" y1="638.60" x2="323.72" y2="641.10" stroke="#111" stroke-width="1.0" />
<line x1="326.04" y1="638.60" x2="326.04" y2="641.10" stroke="#111" stroke-width="1.0" />
<line x1="328.05" y1="638.60" x2="328.05" y2="641.10" stroke="#111" stroke-width="1.0" />
<line x1="329.82" y1="638.60" x2="329.82" y2="641.10" stroke="#111" stroke-width="1.0" />
<line x1="331.40" y1="638.60" x2="331.40" y2="644.00" stroke="#111" stroke-width="2.0" />
<line x1="341.82" y1="638.60" x2="341.82" y2="641.10" stroke="#111" stroke-width="1.0" />
<line x1="347.91" y1="638.60" x2="347.91" y2="641.10" stroke="#111" stroke-width="1.0" />
<line x1="352.23" y1="638.60" x2="352.23" y2="641.10" stroke="#111" stroke-width="1.0" />
<line x1="355.58" y1="638.60" x2="355.58" y2="642.60" stroke="#111" stroke-width="1.0" />
<line x1="358.32" y1="638.60" x2="358.32" y2="641.10" stroke="#111" stroke-width="1.0" />
<line x1="360.64" y1="638.60" x2="360.64" y2="641.10" stroke="#111" stroke-width="1.0" />
<line x1="362.65" y1="638.60" x2="362.65" y2="641.10" stroke="#111" stroke-width="1.0" />
<line x1="364.42" y1="638.60" x2="364.42" y2="641.10" stroke="#111" stroke-width="1.0" />
<line x1="366.00" y1="638.60" x2="366.00" y2="644.00" stroke="#111" stroke-width="2.0" />
<line x1="376.42" y1="638.60" x2="376.42" y2="641.10" stroke="#111" stroke-width="1.0" />
<line x1="382.51" y1="638.60" x2="382.51" y2="641.10" stroke="#111" stroke-width="1.0" />
<line x1="386.83" y1="638.60" x2="386.83" y2="641.10" stroke="#111" stroke-width="1.0" />
<line x1="390.18" y1="638.60" x2="390.18" y2="642.60" stroke="#111" stroke-width="1.0" />
<line x1="392.92" y1="638.60" x2="392.92" y2="641.10" stroke="#111" stroke-width="1.0" />
<line x1="395.24" y1="638.60" x2="395.24" y2="641.10" stroke="#111" stroke-width="1.0" />
<line x1="397.25" y1="638.60" x2="397.25" y2="641.10" stroke="#111" stroke-width="1.0" />
<line x1="399.02" y1="638.60" x2="399.02" y2="641.10" stroke="#111" stroke-width="1.0" />
<line x1="400.60" y1="638.60" x2="400.60" y2="644.00" stroke="#111" stroke-width="2.0" />
<line x1="411.02" y1="638.60" x2="411.02" y2="641.10" stroke="#111" stroke-width="1.0" />
<line x1="417.11" y1="638.60" x2="417.11" y2="641.10" stroke="#111" stroke-width="1.0" />
<line x1="421.43" y1="638.60" x2="421.43" y2="641.10" stroke="#111" stroke-width="1.0" />
<line x1="424.78" y1="638.60" x2="424.78" y2="642.60" stroke="#111" stroke-width="1.0" />
<line x1="427.52" y1="638.60" x2="427.52" y2="641.10" stroke="#111" stroke-width="1.0" />
<line x1="429.84" y1="638.60" x2="429.84" y2="641.10" stroke="#111" stroke-width="1.0" />
<line x1="431.85" y1="638.60" x2="431.85" y2="641.10" stroke="#111" stroke-width="1.0" />
<line x1="433.62" y1="638.60" x2="433.62" y2="641.10" stroke="#111" stroke-width="1.0" />
<line x1="435.20" y1="638.60" x2="435.20" y2="644.00" stroke="#111" stroke-width="2.0" />
<line x1="445.62" y1="638.60" x2="445.62" y2="641.10" stroke="#111" stroke-width="1.0" />
<text x="296.90" y="658.40" font-family='"Liberation Sans", sans-serif' font-size="7.3" text-anchor="middle" font-weight="normal" fill="#0a0a0a" stroke="#0a0a0a" stroke-width="0.15">10</text>
<text x="301.50" y="653.00" font-family='"Liberation Sans", sans-serif' font-size="7.3" text-anchor="start" font-weight="normal" fill="#0a0a0a" stroke="#0a0a0a" stroke-width="0.15">1</text>
<text x="331.40" y="658.40" font-family='"Liberation Sans", sans-serif' font-size="7.3" text-anchor="middle" font-weight="normal" fill="#0a0a0a" stroke="#0a0a0a" stroke-width="0.15">10</text>
<text x="336.00" y="653.00" font-family='"Liberation Sans", sans-serif' font-size="7.3" text-anchor="start" font-weight="normal" fill="#0a0a0a" stroke="#0a0a0a" stroke-width="0.15">2</text>
<text x="366.00" y="658.40" font-family='"Liberation Sans", sans-serif' font-size="7.3" text-anchor="middle" font-weight="normal" fill="#0a0a0a" stroke="#0a0a0a" stroke-width="0.15">10</text>
<text x="370.60" y="653.00" font-family='"Liberation Sans", sans-serif' font-size="7.3" text-anchor="start" font-weight="normal" fill="#0a0a0a" stroke="#0a0a0a" stroke-width="0.15">3</text>
<text x="400.60" y="658.40" font-family='"Liberation Sans", sans-serif' font-size="7.3" text-anchor="middle" font-weight="normal" fill="#0a0a0a" stroke="#0a0a0a" stroke-width="0.15">10</text>
<text x="405.20" y="653.00" font-family='"Liberation Sans", sans-serif' font-size="7.3" text-anchor="start" font-weight="normal" fill="#0a0a0a" stroke="#0a0a0a" stroke-width="0.15">4</text>
<text x="435.20" y="658.40" font-family='"Liberation Sans", sans-serif' font-size="7.3" text-anchor="middle" font-weight="normal" fill="#0a0a0a" stroke="#0a0a0a" stroke-width="0.15">10</text>
<text x="439.80" y="653.00" font-family='"Liberation Sans", sans-serif' font-size="7.3" text-anchor="start" font-weight="normal" fill="#0a0a0a" stroke="#0a0a0a" stroke-width="0.15">5</text>
<text x="367.80" y="668.60" font-family='"Liberation Sans", sans-serif' font-size="7.4" text-anchor="middle" font-weight="normal" fill="#0a0a0a" stroke="#0a0a0a" stroke-width="0.15">Comp-APC-A</text>
<text x="428.20" y="496.60" font-family='"Liberation Sans", sans-serif' font-size="13.8" text-anchor="end" font-weight="bold" fill="#d02b2d" >GM</text>
<text x="428.20" y="512.60" font-family='"Liberation Sans", sans-serif' font-size="13.8" text-anchor="end" font-weight="bold" fill="#2290d0" >RM</text>
<line x1="369.70" y1="534.60" x2="437.70" y2="534.60" stroke="#3a3a3a" stroke-width="1.8" />
<line x1="369.70" y1="530.40" x2="369.70" y2="538.80" stroke="#3a3a3a" stroke-width="1.8" />
<line x1="437.70" y1="530.40" x2="437.70" y2="538.80" stroke="#3a3a3a" stroke-width="1.8" />
<text x="404.10" y="531.60" font-family='"Liberation Sans", sans-serif' font-size="14" text-anchor="middle" font-weight="normal" fill="#2a2a2a" >1.9%</text>
<rect x="522.20" y="476.70" width="162.30" height="161.70" fill="none" stroke="#c8c8c8" stroke-width="1"/>
<polyline points="522.3,600.0 522.8,630.0 525.3,628.1 528.0,624.4 530.8,620.7 533.6,617.0 535.9,612.4 538.2,610.6 541.0,606.9 542.9,605.0 543.8,601.3 546.0,594.8 546.9,591.8 548.8,585.5 550.1,579.1 552.0,572.8 553.9,565.2 554.6,560.0 555.7,549.3 556.9,543.3 558.7,533.7 560.5,523.0 562.3,511.0 563.9,503.9 565.3,496.7 566.5,490.7 568.3,486.0 569.5,484.5 570.3,487.2 571.0,493.1 572.2,495.5 573.7,498.5 574.6,503.9 575.4,511.0 576.6,520.6 577.8,531.3 578.8,547.6 580.8,563.7 582.8,579.8 584.8,593.2 586.9,608.3 588.8,617.2 590.7,626.1 593.2,633.0 595.8,636.2 599.6,638.1 684.5,638.3" fill="none" stroke="#d9434a" stroke-width="1.45" stroke-linejoin="round" stroke-linecap="round"/>
<polyline points="522.2,638.0 522.2,586.5 523.0,605.0 523.4,626.3 524.8,633.7 526.2,637.0 541.0,637.0 543.8,635.6 546.3,634.3 549.4,631.8 552.6,630.5 556.4,629.2 559.0,629.9 561.5,629.9 564.0,626.1 565.9,618.5 567.8,609.6 569.4,600.0 572.8,590.5 574.1,579.8 575.0,563.7 576.1,550.3 577.2,534.2 578.1,520.7 579.5,516.7 580.8,518.1 582.1,523.4 584.8,526.8 586.2,530.1 587.5,536.8 588.2,547.6 588.9,556.3 591.5,556.3 592.9,561.0 594.2,574.4 595.6,589.2 597.0,599.4 598.9,609.6 601.5,621.0 603.0,628.0 605.5,634.2 608.1,637.5 611.0,638.3 684.5,638.3" fill="none" stroke="#33b5e2" stroke-width="1.45" stroke-linejoin="round" stroke-linecap="round"/>
<line x1="519.40" y1="625.37" x2="522.20" y2="625.37" stroke="#111" stroke-width="1.1" />
<line x1="519.40" y1="612.63" x2="522.20" y2="612.63" stroke="#111" stroke-width="1.1" />
<line x1="519.40" y1="587.17" x2="522.20" y2="587.17" stroke="#111" stroke-width="1.1" />
<line x1="519.40" y1="574.44" x2="522.20" y2="574.44" stroke="#111" stroke-width="1.1" />
<line x1="519.40" y1="548.97" x2="522.20" y2="548.97" stroke="#111" stroke-width="1.1" />
<line x1="519.40" y1="536.24" x2="522.20" y2="536.24" stroke="#111" stroke-width="1.1" />
<line x1="519.40" y1="510.77" x2="522.20" y2="510.77" stroke="#111" stroke-width="1.1" />
<line x1="519.40" y1="498.04" x2="522.20" y2="498.04" stroke="#111" stroke-width="1.1" />
<line x1="517.00" y1="638.10" x2="522.20" y2="638.10" stroke="#111" stroke-width="2.0" />
<line x1="517.00" y1="599.90" x2="522.20" y2="599.90" stroke="#111" stroke-width="2.0" />
<line x1="517.00" y1="561.70" x2="522.20" y2="561.70" stroke="#111" stroke-width="2.0" />
<line x1="517.00" y1="523.50" x2="522.20" y2="523.50" stroke="#111" stroke-width="2.0" />
<line x1="517.00" y1="485.30" x2="522.20" y2="485.30" stroke="#111" stroke-width="2.0" />
<text x="514.60" y="490.30" font-family='"Liberation Sans", sans-serif' font-size="7.3" text-anchor="end" font-weight="normal" fill="#0a0a0a" stroke="#0a0a0a" stroke-width="0.15">1.2K</text>
<text x="514.60" y="528.50" font-family='"Liberation Sans", sans-serif' font-size="7.3" text-anchor="end" font-weight="normal" fill="#0a0a0a" stroke="#0a0a0a" stroke-width="0.15">900</text>
<text x="514.60" y="566.70" font-family='"Liberation Sans", sans-serif' font-size="7.3" text-anchor="end" font-weight="normal" fill="#0a0a0a" stroke="#0a0a0a" stroke-width="0.15">600</text>
<text x="514.60" y="604.90" font-family='"Liberation Sans", sans-serif' font-size="7.3" text-anchor="end" font-weight="normal" fill="#0a0a0a" stroke="#0a0a0a" stroke-width="0.15">300</text>
<text x="514.60" y="643.10" font-family='"Liberation Sans", sans-serif' font-size="7.3" text-anchor="end" font-weight="normal" fill="#0a0a0a" stroke="#0a0a0a" stroke-width="0.15">0</text>
<line x1="524.12" y1="638.40" x2="524.12" y2="640.90" stroke="#111" stroke-width="1.0" />
<line x1="526.44" y1="638.40" x2="526.44" y2="640.90" stroke="#111" stroke-width="1.0" />
<line x1="528.45" y1="638.40" x2="528.45" y2="640.90" stroke="#111" stroke-width="1.0" />
<line x1="530.22" y1="638.40" x2="530.22" y2="640.90" stroke="#111" stroke-width="1.0" />
<line x1="531.80" y1="638.40" x2="531.80" y2="643.80" stroke="#111" stroke-width="2.0" />
<line x1="542.22" y1="638.40" x2="542.22" y2="640.90" stroke="#111" stroke-width="1.0" />
<line x1="548.31" y1="638.40" x2="548.31" y2="640.90" stroke="#111" stroke-width="1.0" />
<line x1="552.63" y1="638.40" x2="552.63" y2="640.90" stroke="#111" stroke-width="1.0" />
<line x1="555.98" y1="638.40" x2="555.98" y2="642.40" stroke="#111" stroke-width="1.0" />
<line x1="558.72" y1="638.40" x2="558.72" y2="640.90" stroke="#111" stroke-width="1.0" />
<line x1="561.04" y1="638.40" x2="561.04" y2="640.90" stroke="#111" stroke-width="1.0" />
<line x1="563.05" y1="638.40" x2="563.05" y2="640.90" stroke="#111" stroke-width="1.0" />
<line x1="564.82" y1="638.40" x2="564.82" y2="640.90" stroke="#111" stroke-width="1.0" />
<line x1="566.40" y1="638.40" x2="566.40" y2="643.80" stroke="#111" stroke-width="2.0" />
<line x1="576.82" y1="638.40" x2="576.82" y2="640.90" stroke="#111" stroke-width="1.0" />
<line x1="582.91" y1="638.40" x2="582.91" y2="640.90" stroke="#111" stroke-width="1.0" />
<line x1="587.23" y1="638.40" x2="587.23" y2="640.90" stroke="#111" stroke-width="1.0" />
<line x1="590.58" y1="638.40" x2="590.58" y2="642.40" stroke="#111" stroke-width="1.0" />
<line x1="593.32" y1="638.40" x2="593.32" y2="640.90" stroke="#111" stroke-width="1.0" />
<line x1="595.64" y1="638.40" x2="595.64" y2="640.90" stroke="#111" stroke-width="1.0" />
<line x1="597.65" y1="638.40" x2="597.65" y2="640.90" stroke="#111" stroke-width="1.0" />
<line x1="599.42" y1="638.40" x2="599.42" y2="640.90" stroke="#111" stroke-width="1.0" />
<line x1="601.00" y1="638.40" x2="601.00" y2="643.80" stroke="#111" stroke-width="2.0" />
<line x1="611.42" y1="638.40" x2="611.42" y2="640.90" stroke="#111" stroke-width="1.0" />
<line x1="617.51" y1="638.40" x2="617.51" y2="640.90" stroke="#111" stroke-width="1.0" />
<line x1="621.83" y1="638.40" x2="621.83" y2="640.90" stroke="#111" stroke-width="1.0" />
<line x1="625.18" y1="638.40" x2="625.18" y2="642.40" stroke="#111" stroke-width="1.0" />
<line x1="627.92" y1="638.40" x2="627.92" y2="640.90" stroke="#111" stroke-width="1.0" />
<line x1="630.24" y1="638.40" x2="630.24" y2="640.90" stroke="#111" stroke-width="1.0" />
<line x1="632.25" y1="638.40" x2="632.25" y2="640.90" stroke="#111" stroke-width="1.0" />
<line x1="634.02" y1="638.40" x2="634.02" y2="640.90" stroke="#111" stroke-width="1.0" />
<line x1="635.60" y1="638.40" x2="635.60" y2="643.80" stroke="#111" stroke-width="2.0" />
<line x1="646.02" y1="638.40" x2="646.02" y2="640.90" stroke="#111" stroke-width="1.0" />
<line x1="652.11" y1="638.40" x2="652.11" y2="640.90" stroke="#111" stroke-width="1.0" />
<line x1="656.43" y1="638.40" x2="656.43" y2="640.90" stroke="#111" stroke-width="1.0" />
<line x1="659.78" y1="638.40" x2="659.78" y2="642.40" stroke="#111" stroke-width="1.0" />
<line x1="662.52" y1="638.40" x2="662.52" y2="640.90" stroke="#111" stroke-width="1.0" />
<line x1="664.84" y1="638.40" x2="664.84" y2="640.90" stroke="#111" stroke-width="1.0" />
<line x1="666.85" y1="638.40" x2="666.85" y2="640.90" stroke="#111" stroke-width="1.0" />
<line x1="668.62" y1="638.40" x2="668.62" y2="640.90" stroke="#111" stroke-width="1.0" />
<line x1="670.20" y1="638.40" x2="670.20" y2="643.80" stroke="#111" stroke-width="2.0" />
<line x1="680.62" y1="638.40" x2="680.62" y2="640.90" stroke="#111" stroke-width="1.0" />
<text x="531.90" y="658.40" font-family='"Liberation Sans", sans-serif' font-size="7.3" text-anchor="middle" font-weight="normal" fill="#0a0a0a" stroke="#0a0a0a" stroke-width="0.15">10</text>
<text x="536.50" y="653.00" font-family='"Liberation Sans", sans-serif' font-size="7.3" text-anchor="start" font-weight="normal" fill="#0a0a0a" stroke="#0a0a0a" stroke-width="0.15">1</text>
<text x="566.40" y="658.40" font-family='"Liberation Sans", sans-serif' font-size="7.3" text-anchor="middle" font-weight="normal" fill="#0a0a0a" stroke="#0a0a0a" stroke-width="0.15">10</text>
<text x="571.00" y="653.00" font-family='"Liberation Sans", sans-serif' font-size="7.3" text-anchor="start" font-weight="normal" fill="#0a0a0a" stroke="#0a0a0a" stroke-width="0.15">2</text>
<text x="601.00" y="658.40" font-family='"Liberation Sans", sans-serif' font-size="7.3" text-anchor="middle" font-weight="normal" fill="#0a0a0a" stroke="#0a0a0a" stroke-width="0.15">10</text>
<text x="605.60" y="653.00" font-family='"Liberation Sans", sans-serif' font-size="7.3" text-anchor="start" font-weight="normal" fill="#0a0a0a" stroke="#0a0a0a" stroke-width="0.15">3</text>
<text x="635.60" y="658.40" font-family='"Liberation Sans", sans-serif' font-size="7.3" text-anchor="middle" font-weight="normal" fill="#0a0a0a" stroke="#0a0a0a" stroke-width="0.15">10</text>
<text x="640.20" y="653.00" font-family='"Liberation Sans", sans-serif' font-size="7.3" text-anchor="start" font-weight="normal" fill="#0a0a0a" stroke="#0a0a0a" stroke-width="0.15">4</text>
<text x="670.30" y="658.40" font-family='"Liberation Sans", sans-serif' font-size="7.3" text-anchor="middle" font-weight="normal" fill="#0a0a0a" stroke="#0a0a0a" stroke-width="0.15">10</text>
<text x="674.90" y="653.00" font-family='"Liberation Sans", sans-serif' font-size="7.3" text-anchor="start" font-weight="normal" fill="#0a0a0a" stroke="#0a0a0a" stroke-width="0.15">5</text>
<text x="604.00" y="668.60" font-family='"Liberation Sans", sans-serif' font-size="7.4" text-anchor="middle" font-weight="normal" fill="#0a0a0a" stroke="#0a0a0a" stroke-width="0.15">Comp-FITC-A</text>
<text x="672.00" y="496.60" font-family='"Liberation Sans", sans-serif' font-size="13.8" text-anchor="end" font-weight="bold" fill="#d02b2d" >GM</text>
<text x="672.00" y="512.60" font-family='"Liberation Sans", sans-serif' font-size="13.8" text-anchor="end" font-weight="bold" fill="#2290d0" >RM</text>
<line x1="587.40" y1="535.00" x2="674.60" y2="535.00" stroke="#3a3a3a" stroke-width="1.8" />
<line x1="587.40" y1="530.80" x2="587.40" y2="539.20" stroke="#3a3a3a" stroke-width="1.8" />
<line x1="674.60" y1="530.80" x2="674.60" y2="539.20" stroke="#3a3a3a" stroke-width="1.8" />
<text x="631.20" y="531.60" font-family='"Liberation Sans", sans-serif' font-size="14" text-anchor="middle" font-weight="normal" fill="#2a2a2a" >3.9%</text>
</svg></body></html>
